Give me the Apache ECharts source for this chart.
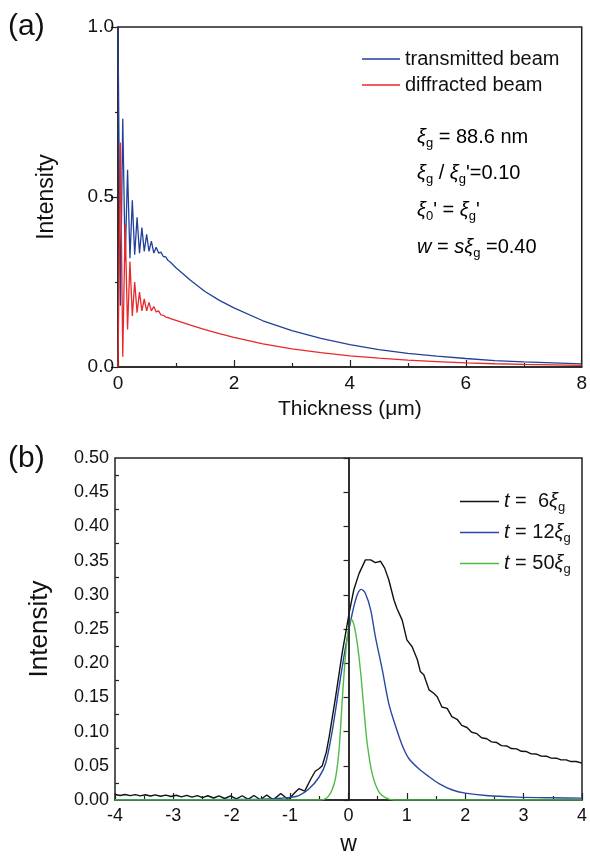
<!DOCTYPE html>
<html><head><meta charset="utf-8">
<script src="https://cdn.jsdelivr.net/npm/echarts@6/dist/echarts.min.js"></script>
<style>html,body{margin:0;padding:0;background:#fff}#c{width:590px;height:857px}</style>
</head><body><div id="c"></div>
<script>
// ---- Panel (a): intensity vs thickness (um)
const thickness = [0, 0.041, 0.082, 0.124, 0.165, 0.206, 0.247, 0.288, 0.329, 0.371, 0.412, 0.453, 0.494, 0.535, 0.576, 0.618, 0.659, 0.700, 0.741, 0.782, 0.824, 0.865, 0.906, 1.0, 1.25, 1.5, 1.75, 2.0, 2.5, 3.0, 3.5, 4.0, 4.5, 5.0, 5.5, 6.0, 6.5, 7.0, 7.5, 8.0];
const transmitted = [1.00, 0.18, 0.73, 0.31, 0.58, 0.32, 0.49, 0.33, 0.44, 0.335, 0.41, 0.34, 0.39, 0.34, 0.37, 0.335, 0.352, 0.335, 0.338, 0.325, 0.324, 0.313, 0.308, 0.292, 0.255, 0.222, 0.196, 0.174, 0.136, 0.107, 0.084, 0.066, 0.051, 0.040, 0.032, 0.025, 0.019, 0.015, 0.012, 0.009];
const diffracted = [0.00, 0.66, 0.03, 0.42, 0.11, 0.31, 0.15, 0.25, 0.16, 0.22, 0.165, 0.20, 0.165, 0.19, 0.165, 0.178, 0.162, 0.165, 0.153, 0.152, 0.147, 0.145, 0.142, 0.137, 0.123, 0.110, 0.098, 0.087, 0.068, 0.053, 0.042, 0.033, 0.026, 0.020, 0.016, 0.012, 0.0095, 0.0075, 0.006, 0.0045];

// ---- Panel (b): intensity vs w
const wBlack = [-4.00,-3.91,-3.83,-3.74,-3.65,-3.57,-3.48,-3.39,-3.31,-3.22,-3.13,-3.04,-2.95,-2.86,-2.77,-2.68,-2.59,-2.50,-2.41,-2.31,-2.22,-2.12,-2.02,-1.92,-1.82,-1.72,-1.62,-1.51,-1.40,-1.29,-1.16,-1.03,-0.93,-0.85,-0.75,-0.65,-0.57,-0.50,-0.45,-0.38,-0.33,-0.22,-0.11,0.01,0.09,0.18,0.29,0.38,0.46,0.55,0.62,0.69,0.78,0.83,0.92,1.00,1.09,1.18,1.23,1.29,1.38,1.46,1.52,1.60,1.69,1.77,1.86,1.94,2.03,2.11,2.20,2.28,2.37,2.45,2.54,2.62,2.71,2.79,2.88,2.96,3.05,3.13,3.22,3.30,3.39,3.47,3.56,3.64,3.73,3.81,3.90,4.00];
const iBlack = [0.0080,0.0066,0.0081,0.0064,0.0079,0.0061,0.0077,0.0058,0.0075,0.0055,0.0072,0.0051,0.0070,0.0046,0.0067,0.0041,0.0064,0.0035,0.0062,0.0029,0.0060,0.0022,0.0060,0.0015,0.0062,0.0008,0.0066,0.0004,0.0074,0.0002,0.0095,0.0004,0.0100,0.0165,0.0130,0.0300,0.0420,0.0460,0.0500,0.0700,0.0930,0.1510,0.2140,0.2730,0.3070,0.3310,0.3510,0.3510,0.3470,0.3490,0.3390,0.3220,0.2920,0.2800,0.2630,0.2340,0.2240,0.2050,0.1880,0.1830,0.1610,0.1560,0.1510,0.1360,0.1340,0.1220,0.1180,0.1090,0.1060,0.0990,0.0970,0.0910,0.0895,0.0850,0.0840,0.0795,0.0790,0.0752,0.0748,0.0712,0.0708,0.0675,0.0672,0.0642,0.0640,0.0612,0.0611,0.0586,0.0586,0.0562,0.0563,0.0538];
const wBlue = [-4.0,-3.0,-2.0,-1.5,-1.2,-1.0,-0.85,-0.68,-0.5,-0.39,-0.28,-0.16,-0.05,0.065,0.15,0.22,0.29,0.38,0.46,0.58,0.69,0.81,0.92,1.03,1.2,1.38,1.55,1.77,2.0,2.35,2.9,3.5,4.0];
const iBlue = [0.0003,0.0004,0.0007,0.0012,0.0022,0.0038,0.0065,0.016,0.034,0.054,0.100,0.166,0.224,0.273,0.300,0.308,0.302,0.278,0.239,0.190,0.141,0.107,0.080,0.061,0.046,0.034,0.024,0.015,0.010,0.0065,0.0042,0.0032,0.0027];
const wGreen = [-4.0,-0.5,-0.42,-0.35,-0.28,-0.22,-0.16,-0.106,-0.05,0.0,0.05,0.094,0.15,0.21,0.265,0.32,0.41,0.52,0.64,0.78,4.0];
const iGreen = [0,0,0.001,0.005,0.015,0.033,0.075,0.148,0.213,0.250,0.264,0.256,0.229,0.185,0.132,0.083,0.037,0.012,0.003,0.0,0];

const FONT = 'Liberation Sans';
const pairs = (xs, ys) => xs.map((x, i) => [x, ys[i]]);

const axisLineStyle = {color: '#222', width: 1.5};
const subRich = {
  n: {fontSize: 20, fontFamily: FONT, color: '#111', lineHeight: 28},
  it: {fontSize: 20, fontFamily: FONT, fontStyle: 'italic', color: '#111', lineHeight: 28},
  sub: {fontSize: 13, fontFamily: FONT, color: '#111', lineHeight: 14, padding: [12, 0, 0, 0]}
};

const legendNames = {t6: '{it|t}{n| =  6}{it|ξ}{sub|g}', t12: '{it|t}{n| = 12}{it|ξ}{sub|g}', t50: '{it|t}{n| = 50}{it|ξ}{sub|g}'};

const chart = echarts.init(document.getElementById('c'), null, {renderer: 'canvas'});
chart.setOption({
  backgroundColor: '#fff',
  animation: false,
  textStyle: {fontFamily: FONT},
  grid: [
    {left: 118, top: 27, width: 465, height: 340, show: true, borderColor: '#222', borderWidth: 1.5},
    {left: 115, top: 458, width: 468, height: 342, show: true, borderColor: '#222', borderWidth: 1.5}
  ],
  xAxis: [
    {gridIndex: 0, type: 'value', min: 0, max: 8, interval: 2,
     name: 'Thickness (μm)', nameLocation: 'middle', nameGap: 32,
     nameTextStyle: {fontSize: 21, color: '#111', fontFamily: FONT},
     axisLine: {lineStyle: axisLineStyle},
     axisTick: {inside: true, length: 7, lineStyle: {color: '#222', width: 1.2}},
     minorTick: {show: true, splitNumber: 2, length: 4, lineStyle: {color: '#222', width: 1.2}},
     axisLabel: {fontSize: 19, color: '#111', margin: 7, fontFamily: FONT},
     splitLine: {show: false}},
    {gridIndex: 1, type: 'value', min: -4, max: 4, interval: 1,
     name: 'w', nameLocation: 'middle', nameGap: 33,
     nameTextStyle: {fontSize: 23, color: '#111', fontFamily: FONT},
     axisLine: {lineStyle: axisLineStyle},
     axisTick: {inside: true, length: 7, lineStyle: {color: '#222', width: 1.2}},
     minorTick: {show: true, splitNumber: 2, length: 4, lineStyle: {color: '#222', width: 1.2}},
     axisLabel: {fontSize: 18, color: '#111', margin: 7, fontFamily: FONT},
     splitLine: {show: false}}
  ],
  yAxis: [
    {gridIndex: 0, type: 'value', min: 0, max: 1, interval: 0.5,
     name: 'Intensity', nameLocation: 'middle', nameGap: 60,
     nameTextStyle: {fontSize: 23, color: '#111', fontFamily: FONT},
     axisLine: {lineStyle: axisLineStyle},
     axisTick: {inside: false, length: 7, lineStyle: {color: '#222', width: 1.2}},
     minorTick: {show: true, splitNumber: 2, length: 3, lineStyle: {color: '#222', width: 1.2}},
     axisLabel: {fontSize: 19, color: '#111', margin: 4, fontFamily: FONT, formatter: v => v.toFixed(1)},
     splitLine: {show: false}},
    {gridIndex: 1, type: 'value', min: 0, max: 0.5, interval: 0.05, position: 'left',
     name: 'Intensity', nameLocation: 'middle', nameGap: 62,
     nameTextStyle: {fontSize: 26, color: '#111', fontFamily: FONT},
     axisLine: {lineStyle: axisLineStyle},
     axisTick: {inside: false, length: 5, lineStyle: {color: '#222', width: 1.2}},
     axisLabel: {fontSize: 18, color: '#111', margin: 6, fontFamily: FONT, formatter: v => v.toFixed(2)},
     splitLine: {show: false}},
    {gridIndex: 1, type: 'value', min: 0, max: 0.5, interval: 0.05, position: 'left',
     axisLine: {show: false},
     axisTick: {show: false, inside: true},
     minorTick: {show: true, splitNumber: 2, length: 4, lineStyle: {color: '#222', width: 1.2}},
     axisLabel: {show: false}, splitLine: {show: false}}
  ],
  legend: [
    {left: 357, top: 43, orient: 'vertical', icon: 'rect', itemWidth: 38, itemHeight: 1.5, itemGap: 4,
     data: ['transmitted beam', 'diffracted beam'],
     textStyle: {fontSize: 20, fontFamily: FONT, color: '#111', lineHeight: 22}},
    {left: 455, top: 484, orient: 'vertical', icon: 'rect', itemWidth: 39, itemHeight: 1.5, itemGap: 6,
     data: ['t6', 't12', 't50'],
     formatter: name => legendNames[name],
     textStyle: {fontSize: 20, fontFamily: FONT, color: '#111', rich: subRich}}
  ],
  graphic: [
    {type: 'text', left: 8, top: 12, style: {text: '(a)', font: '30px "Liberation Sans"', fill: '#111'}},
    {type: 'text', left: 8, top: 444, style: {text: '(b)', font: '30px "Liberation Sans"', fill: '#111'}},
    {type: 'text', x: 417, y: 137, style: {text: '{it|ξ}{sub|g}{n| = 88.6 nm}', rich: subRich, verticalAlign: 'middle'}},
    {type: 'text', x: 417, y: 173, style: {text: "{it|ξ}{sub|g}{n| / }{it|ξ}{sub|g}{n|'=0.10}", rich: subRich, verticalAlign: 'middle'}},
    {type: 'text', x: 417, y: 210, style: {text: "{it|ξ}{sub|0}{n|' = }{it|ξ}{sub|g}{n|'}", rich: subRich, verticalAlign: 'middle'}},
    {type: 'text', x: 417, y: 247, style: {text: '{it|w}{n| = }{it|sξ}{sub|g}{n| =0.40}', rich: subRich, verticalAlign: 'middle'}}
  ],
  series: [
    {name: 'transmitted beam', type: 'line', xAxisIndex: 0, yAxisIndex: 0, symbol: 'none',
     data: pairs(thickness, transmitted), lineStyle: {color: '#22409a', width: 1.3}, itemStyle: {color: '#22409a'}},
    {name: 'diffracted beam', type: 'line', xAxisIndex: 0, yAxisIndex: 0, symbol: 'none',
     data: pairs(thickness, diffracted), lineStyle: {color: '#e8282a', width: 1.3}, itemStyle: {color: '#e8282a'}},
    {name: 't6', type: 'line', xAxisIndex: 1, yAxisIndex: 1, symbol: 'none',
     data: pairs(wBlack, iBlack), lineStyle: {color: '#111', width: 1.4}, itemStyle: {color: '#111'},
     markLine: {silent: true, symbol: 'none', label: {show: false}, lineStyle: {color: '#222', width: 1.5, type: 'solid'}, data: [{xAxis: 0}]}},
    {name: 't12', type: 'line', xAxisIndex: 1, yAxisIndex: 1, symbol: 'none', smooth: 0.3,
     data: pairs(wBlue, iBlue), lineStyle: {color: '#2a48a0', width: 1.4}, itemStyle: {color: '#2a48a0'}},
    {name: 't50', type: 'line', xAxisIndex: 1, yAxisIndex: 1, symbol: 'none', smooth: 0.3,
     data: pairs(wGreen, iGreen), lineStyle: {color: '#4dbb45', width: 1.4}, itemStyle: {color: '#4dbb45'}}
  ]
});
</script></body></html>
